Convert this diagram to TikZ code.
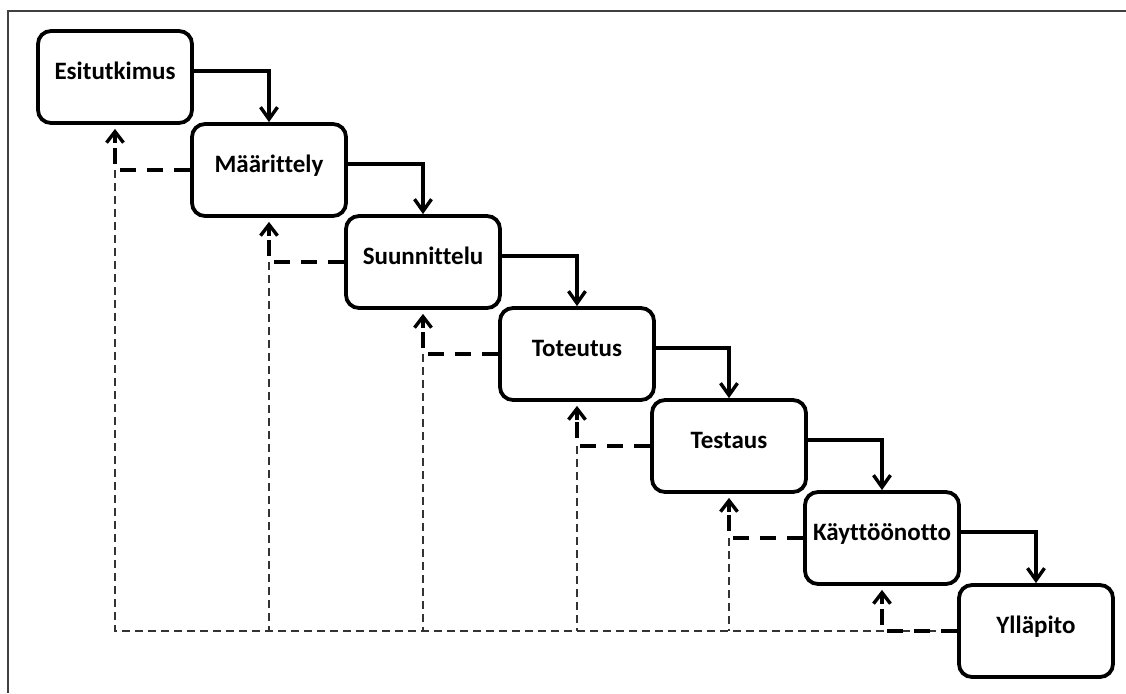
\documentclass[tikz,border=0pt]{standalone}
\usepackage{fontspec}
\setmainfont{Carlito}[Ligatures=NoCommon]
\usetikzlibrary{arrows.meta}

\tikzset{
  phase/.style={draw, line width=1.9pt, rounded corners=6.5pt,
    minimum width=77pt, minimum height=46pt, inner sep=1pt,
    font=\bfseries\fontsize{12.5}{15}\selectfont,
    text height=0.7em, text depth=0.42em},
  flow/.style={-{Straight Barb[length=6pt,width=8.5pt]}, line width=1.7pt},
  back/.style={line width=1.7pt, dash pattern=on 8pt off 5.5pt},
  backtip/.style={-{Straight Barb[length=5.5pt,width=8.5pt]}, line width=1.7pt,
    shorten >=2pt},
  link/.style={line width=0.8pt, dash pattern=on 4pt off 2.5pt, black!80},
}

\begin{document}
\begin{tikzpicture}[x=0.5pt, y=-0.5pt]
  \useasboundingbox (0,0) rectangle (1126,693);
  \draw[line width=1.3pt, black!75] (8,693) -- (8,11) -- (1126,11);
  \draw
    (115,77) node[phase] (esi){Esitutkimus}
    (269,170) node[phase] (maar){Määrittely}
    (423,262) node[phase] (suun){Suunnittelu}
    (577,354) node[phase] (tot){Toteutus}
    (729,446) node[phase] (test){Testaus}
    (882,538) node[phase] (kayt){Käyttöönotto}
    (1036,631) node[phase] (yll){Ylläpito};
  % paluu ylläpidosta
  \begin{scope}[link]
    \draw (esi.south |- maar.west) -- (esi.south |- yll.west) -- (yll.west);
    \draw (maar.south |- suun.west) -- (maar.south |- yll.west);
    \draw (suun.south |- tot.west) -- (suun.south |- yll.west);
    \draw (tot.south |- test.west) -- (tot.south |- yll.west);
    \draw (test.south |- kayt.west) -- (test.south |- yll.west);
  \end{scope}
  \begin{scope}[flow]
    \draw ([yshift=3pt]esi.east) -| (maar.north);
    \draw ([yshift=3pt]maar.east) -| (suun.north);
    \draw ([yshift=3pt]suun.east) -| (tot.north);
    \draw ([yshift=3pt]tot.east) -| (test.north);
    \draw ([yshift=3pt]test.east) -| (kayt.north);
    \draw ([yshift=3pt]kayt.east) -| (yll.north);
  \end{scope}
  \begin{scope}[back]
    \draw (maar.west) -| ([yshift=-9pt]esi.south);
    \draw (suun.west) -| ([yshift=-9pt]maar.south);
    \draw (tot.west) -| ([yshift=-9pt]suun.south);
    \draw (test.west) -| ([yshift=-9pt]tot.south);
    \draw (kayt.west) -| ([yshift=-9pt]test.south);
    \draw (yll.west) -| ([yshift=-9pt]kayt.south);
  \end{scope}
  \begin{scope}[backtip]
    \draw ([yshift=-9pt]esi.south) -- (esi.south);
    \draw ([yshift=-9pt]maar.south) -- (maar.south);
    \draw ([yshift=-9pt]suun.south) -- (suun.south);
    \draw ([yshift=-9pt]tot.south) -- (tot.south);
    \draw ([yshift=-9pt]test.south) -- (test.south);
    \draw ([yshift=-9pt]kayt.south) -- (kayt.south);
  \end{scope}
\end{tikzpicture}
\end{document}
